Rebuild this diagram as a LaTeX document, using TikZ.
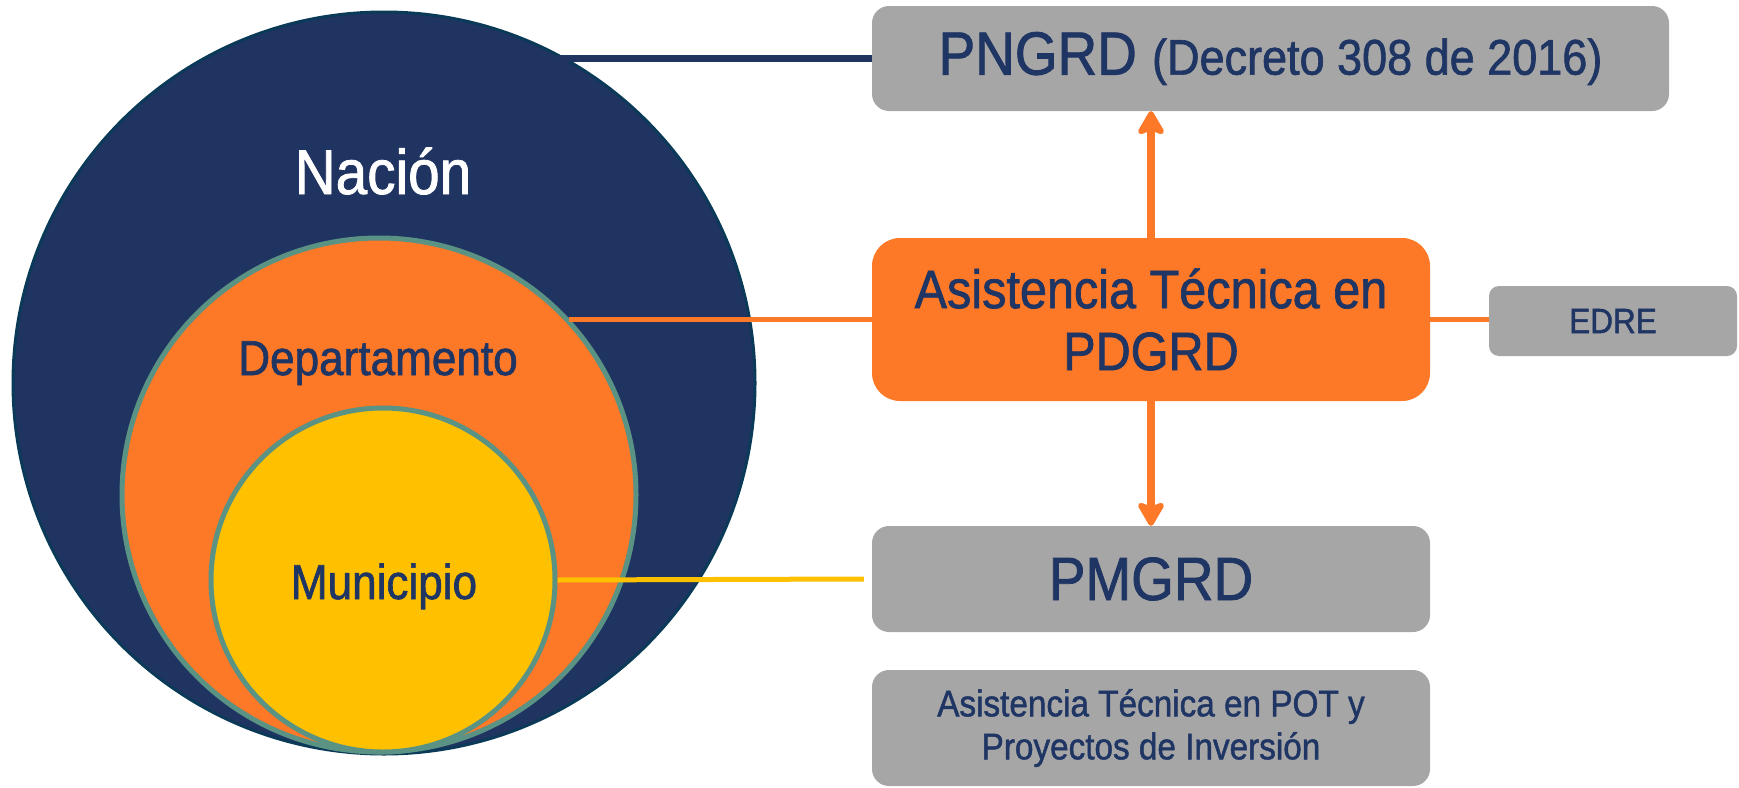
\documentclass[tikz,border=0pt]{standalone}
\usepackage{fontspec}
\setmainfont{Liberation Sans}[FakeStretch=0.9, FakeBold=1.3]
\usetikzlibrary{arrows.meta,positioning}
\definecolor{navyfill}{HTML}{203462}
\definecolor{navyedge}{HTML}{0B3A58}
\definecolor{navytext}{HTML}{1F3564}
\definecolor{orangefill}{HTML}{FD7827}
\definecolor{goldfill}{HTML}{FFC000}
\definecolor{tealedge}{HTML}{5A9384}
\definecolor{boxgray}{HTML}{A6A6A6}

\begin{document}
\begin{tikzpicture}[x=1pt, y=-1pt, inner sep=0pt,
  level/.style={circle, minimum size=#1},
  graybox/.style={fill=boxgray, rounded corners=17pt, text=navytext, align=center},
  conn/.style={line width=5pt, orangefill},
  arrowline/.style={line width=8pt, orangefill, -{Stealth[round, length=28pt, width=32pt, inset=6pt]}}]
   \useasboundingbox (0,0) rectangle (1739,787);
   % niveles territoriales
   \node[level=742pt, fill=navyfill, draw=navyedge, line width=3pt] (nacion) at (384,383) {};
   \node[level=514pt, fill=orangefill, draw=tealedge, line width=5pt] (depto) at (379,495) {};
   \node[level=344pt, fill=goldfill, draw=tealedge, line width=5pt] (muni) at (383,580) {};
   \node[anchor=base, text=white, font=\fontsize{63}{70}\selectfont] (tnacion) at (383,194) {Nación};
   \begin{scope}[every node/.style={anchor=base, text=navytext, font=\fontsize{49}{56}\selectfont}]
    \node (tdepto) at (378,375) {Departamento};
    \node (tmuni) at (384,599) {Municipio};
   \end{scope}
   % planes
   \node[graybox, minimum width=797pt, minimum height=105pt] (pngrd) at (1270.5,58.5)
     {\fontsize{61}{68}\selectfont PNGRD {\fontsize{50}{56}\selectfont(Decreto 308 de 2016)}};
   \node[graybox, fill=orangefill, rounded corners=28pt, minimum width=558pt, minimum height=163pt,
     font=\fontsize{54}{62}\selectfont] (asist) at (1151,319.5) {Asistencia Técnica en\\PDGRD};
   \node[graybox, rounded corners=10pt, minimum width=248pt, minimum height=70pt,
     font=\fontsize{35}{40}\selectfont] (edre) at (1613,321) {EDRE};
   \node[graybox, minimum width=558pt, minimum height=106pt,
     font=\fontsize{61}{68}\selectfont] (pmgrd) at (1151,579) {PMGRD};
   \node[graybox, minimum width=558pt, minimum height=116pt,
     font=\fontsize{37}{43}\selectfont] (pot) at (1151,728) {Asistencia Técnica en POT y\\Proyectos de Inversión};
   % conectores
   \draw[line width=7pt, navyfill] (pngrd.west) -- (pngrd.west -| nacion.62);
   \draw[conn] (asist.west) -- (asist.west -| depto.43);
   \draw[conn] (asist.east) -- (asist.east -| edre.west);
   \draw[conn, goldfill] (muni.east) -- ([xshift=-8pt]pmgrd.west);
   \draw[arrowline] (asist.north) -- (asist.north |- pngrd.south);
   \draw[arrowline] (asist.south) -- (pmgrd.north);
\end{tikzpicture}
\end{document}
